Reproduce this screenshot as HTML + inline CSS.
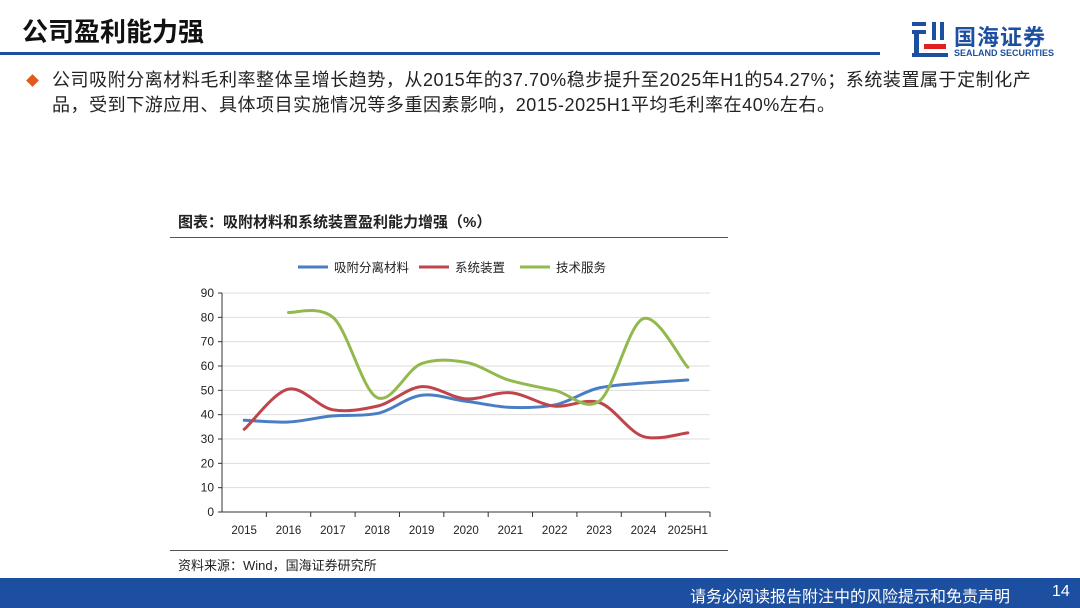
<!DOCTYPE html>
<html><head><meta charset="utf-8">
<style>
body{margin:0;width:1080px;height:608px;background:#fff;font-family:"Liberation Sans","Noto Sans CJK SC",sans-serif;position:relative;overflow:hidden}
.title{position:absolute;left:22px;top:12px;font-size:26px;font-weight:bold;color:#111}
.hline{position:absolute;left:0;top:52px;width:880px;height:3px;background:#1d4fa0}
.bullet{position:absolute;left:28px;top:76px;width:9px;height:9px;background:#e05a1e;transform:rotate(45deg)}
.para{position:absolute;left:52px;top:68px;width:1000px;font-size:18px;letter-spacing:0.55px;line-height:25px;color:#222}
.ctitle{position:absolute;left:178px;top:211px;font-size:15px;font-weight:bold;color:#222}
.cline{position:absolute;left:170px;top:237px;width:558px;height:1px;background:#555}
.cline2{position:absolute;left:170px;top:550px;width:558px;height:1px;background:#555}
.src{position:absolute;left:178px;top:555px;font-size:13px;color:#222}
.footer{position:absolute;left:0;top:578px;width:1080px;height:30px;background:#1d4fa0;color:#fff;font-size:16px}
</style></head><body>
<div class="title">公司盈利能力强</div>
<div class="hline"></div>
<div style="position:absolute;left:910px;top:20px;width:160px;height:40px">
<svg width="40" height="38" viewBox="0 0 40 38"><g fill="#1d4fa0"><rect x="2" y="2" width="14" height="4"/><rect x="2" y="10" width="14" height="4"/><rect x="4" y="14" width="5" height="20"/><rect x="22" y="2" width="4" height="18"/><rect x="30" y="2" width="4" height="18"/><rect x="2" y="33" width="36" height="4"/></g><rect x="14" y="24" width="22" height="5" fill="#e02020"/></svg>
<div style="position:absolute;left:44px;top:0;font-size:22px;font-weight:bold;color:#1d4fa0;letter-spacing:1px">国海证券</div>
<div style="position:absolute;left:44px;top:28px;font-size:9px;font-weight:bold;color:#1d4fa0">SEALAND SECURITIES</div>
</div>
<div class="bullet"></div>
<div class="para">公司吸附分离材料毛利率整体呈增长趋势，从2015年的37.70%稳步提升至2025年H1的54.27%；系统装置属于定制化产<br>品，受到下游应用、具体项目实施情况等多重因素影响，2015-2025H1平均毛利率在40%左右。</div>
<div class="ctitle">图表：吸附材料和系统装置盈利能力增强（%）</div>
<div class="cline"></div>
<svg id="chart" style="position:absolute;left:0;top:0" width="1080" height="608"></svg>
<div class="cline2"></div>
<div class="src">资料来源：Wind，国海证券研究所</div>
<div class="footer"><span style="position:absolute;left:690px;top:5px">请务必阅读报告附注中的风险提示和免责声明</span><span style="position:absolute;left:1052px;top:5px">14</span></div>
<script>
const categories=["2015","2016","2017","2018","2019","2020","2021","2022","2023","2024","2025H1"];
const adsorbent=[37.7,37,39.5,40.5,48,45.5,43,44,51,53,54.27];
const system=[34,50.5,42,43.5,51.5,46.5,49,43.5,45,31,32.5];
const service=[null,82,80,47,61,61.5,54,50,45.5,79.5,59.5];
const yTicks=[0,10,20,30,40,50,60,70,80,90];
const seriesNames=["吸附分离材料","系统装置","技术服务"];
const colors=["#4a7ec4","#c0454a","#93b94e"];
const NS="http://www.w3.org/2000/svg";
const svg=document.getElementById('chart');
const L=222,R=710,T=293,B=512;
const step=(R-L)/categories.length;
const x=i=>L+step*(i+0.5);
const y=v=>B-(v/90)*(B-T);
function mk(t,a){const e=document.createElementNS(NS,t);for(const k in a)e.setAttribute(k,a[k]);svg.appendChild(e);return e;}
yTicks.forEach(v=>{
 if(v>0){const g=mk('line',{x1:L,x2:R,y1:y(v),y2:y(v),stroke:'#ddd','stroke-width':1});
 
 }
 const t=mk('text',{x:L-8,y:y(v)+4,'text-anchor':'end','font-size':12,fill:'#222'});t.textContent=v;
 
 
 mk('line',{x1:L-4,x2:L,y1:y(v),y2:y(v),stroke:'#333'});
});
const ax=mk('line',{x1:L,x2:L,y1:T,y2:B,stroke:'#333'});


const bx=mk('line',{x1:L,x2:R,y1:B,y2:B,stroke:'#333'});


categories.forEach((c,i)=>{
 mk('line',{x1:L+step*(i+1),x2:L+step*(i+1),y1:B,y2:B+5,stroke:'#333'});
 const t=mk('text',{x:x(i),y:B+22,'text-anchor':'middle','font-size':11.5,fill:'#222'});t.textContent=c;
 
 
});
function path(vals){
 const p=[];vals.forEach((v,i)=>{if(v!==null)p.push([x(i),y(v)]);});
 let d='M'+p[0][0]+','+p[0][1];
 for(let i=0;i<p.length-1;i++){
  const p0=p[i-1]||p[i],p1=p[i],p2=p[i+1],p3=p[i+2]||p2;
  const c1=[p1[0]+(p2[0]-p0[0])/6,p1[1]+(p2[1]-p0[1])/7];
  const c2=[p2[0]-(p3[0]-p1[0])/6,p2[1]-(p3[1]-p1[1])/7];
  d+=` C${c1[0]},${c1[1]} ${c2[0]},${c2[1]} ${p2[0]},${p2[1]}`;
 }
 return d;
}
[adsorbent,system,service].forEach((s,k)=>{
 const e=mk('path',{d:path(s),fill:'none',stroke:colors[k],'stroke-width':3,'stroke-linecap':'round'});
 
 
});
const lx=[298,419,520];
seriesNames.forEach((n,k)=>{
 mk('line',{x1:lx[k],x2:lx[k]+30,y1:267,y2:267,stroke:colors[k],'stroke-width':3});
 const t=mk('text',{x:lx[k]+36,y:272,'font-size':12.5,fill:'#222'});t.textContent=n;
 
 
});
</script>
</body></html>
